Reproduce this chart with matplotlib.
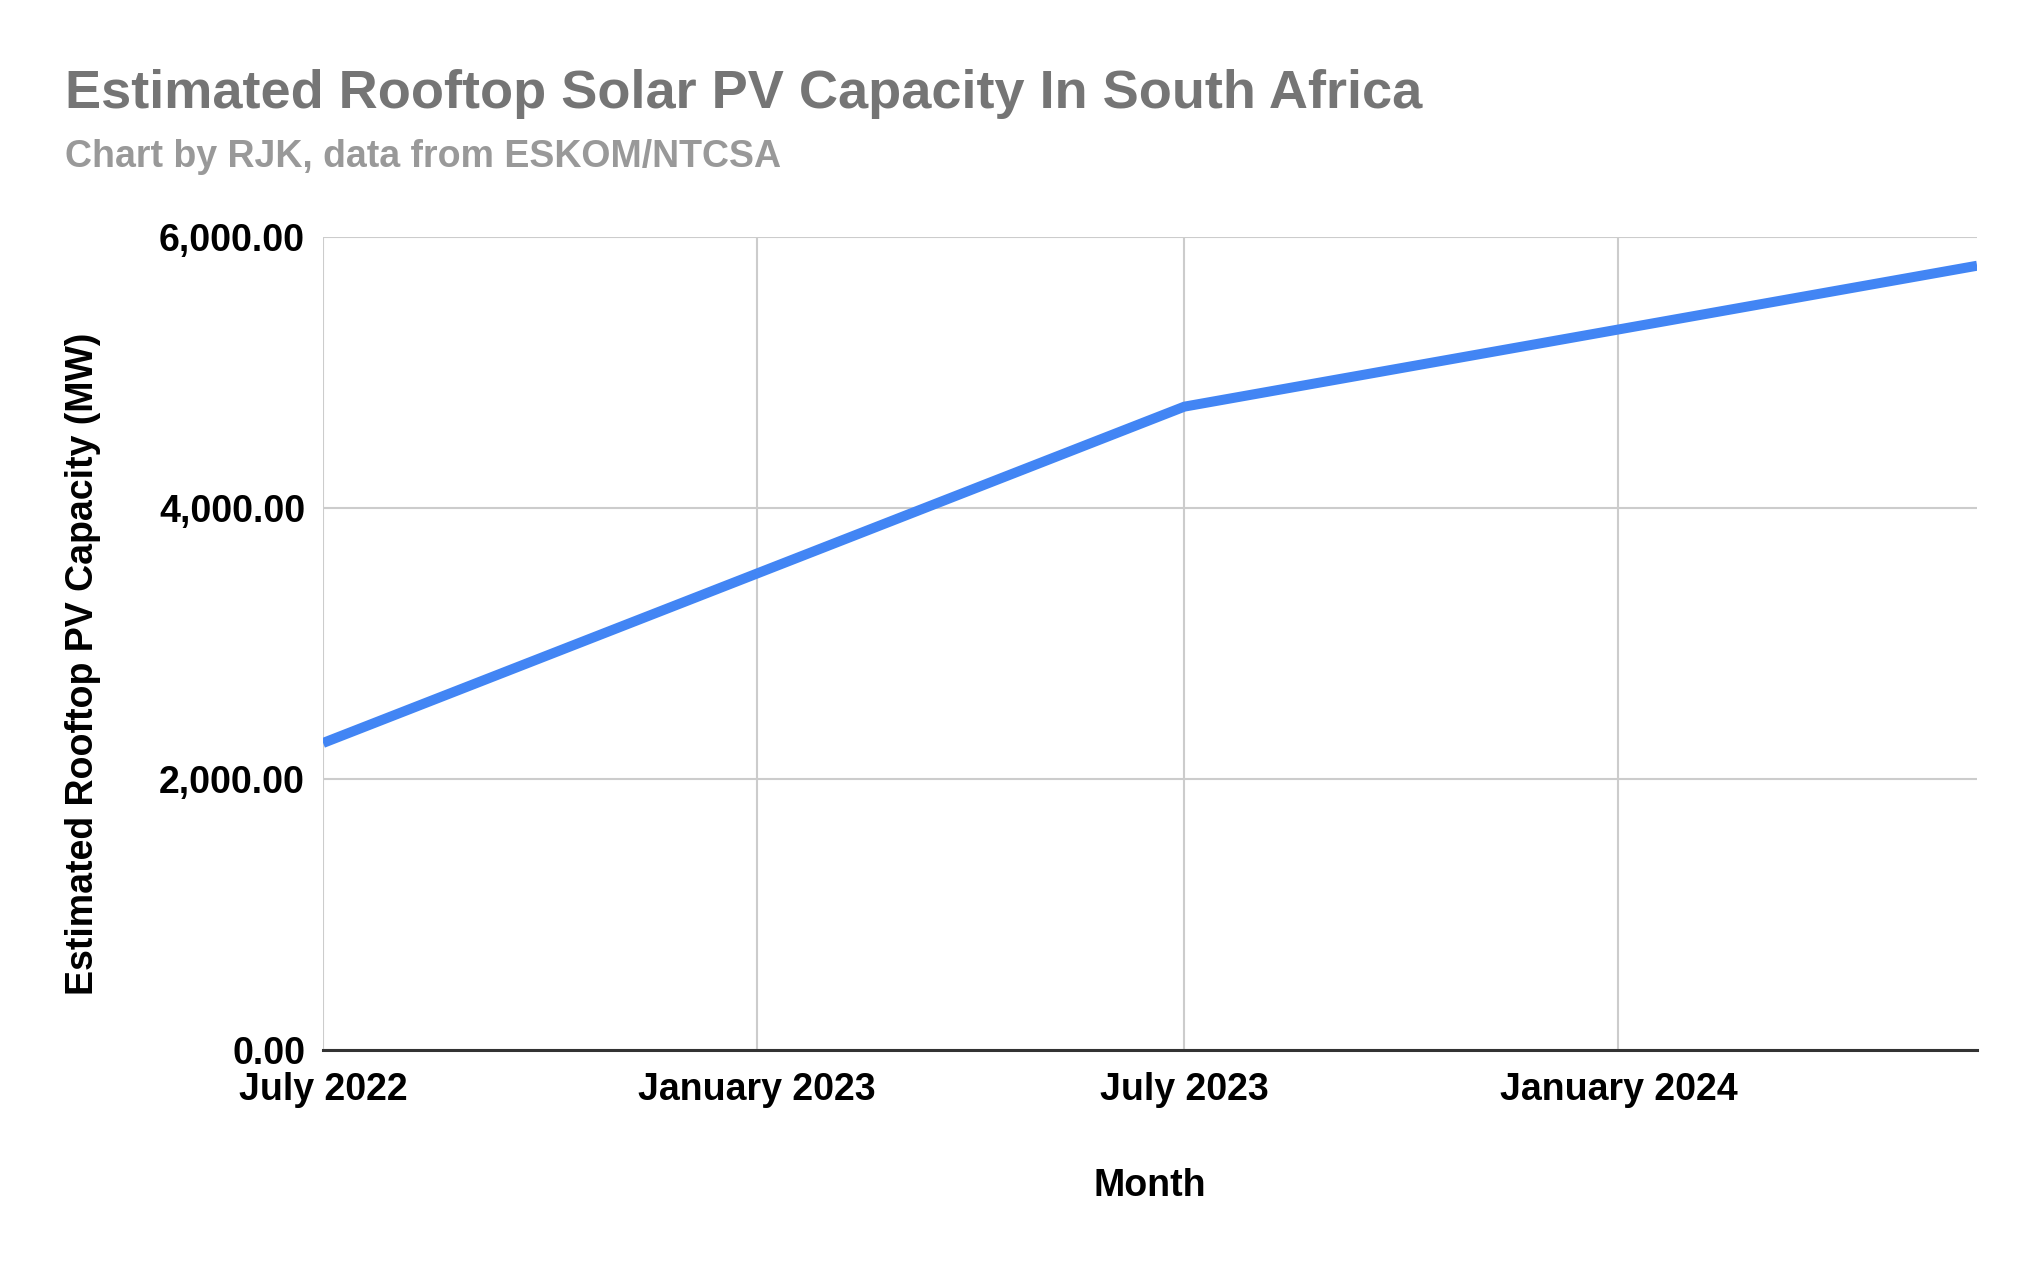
import matplotlib.pyplot as plt
import matplotlib.dates as mdates
from matplotlib.ticker import FuncFormatter
import pandas as pd

# Data
months = ['2022-07-01', '2023-07-01', '2024-06-01']
capacity_mw = [2266, 4748, 5788]

tick_dates = ['2022-07-01', '2023-01-01', '2023-07-01', '2024-01-01']
tick_labels = ['July 2022', 'January 2023', 'July 2023', 'January 2024']

plt.rcParams['font.family'] = ['Liberation Sans', 'DejaVu Sans']

dates = pd.to_datetime(months)

fig = plt.figure(figsize=(20.41, 12.66), dpi=100)
ax = fig.add_axes([0.1583, 0.1706, 0.8104, 0.6422])

ax.plot(dates, capacity_mw, color='#4285F4', linewidth=7.2, solid_capstyle='butt', zorder=3)

ax.set_xlim(pd.Timestamp('2022-07-01'), pd.Timestamp('2024-06-01'))
ax.set_ylim(0, 6000)
ax.set_yticks([0, 2000, 4000, 6000])
ax.yaxis.set_major_formatter(FuncFormatter(lambda v, p: f'{v:,.2f}'))
ax.set_xticks(pd.to_datetime(tick_dates))
ax.set_xticklabels(tick_labels)

ax.grid(True, color='#cccccc', linewidth=1.5)
ax.set_axisbelow(True)
for s in ['top', 'right', 'left']:
    ax.spines[s].set_visible(False)
ax.spines['bottom'].set_color('#333333')
ax.spines['bottom'].set_linewidth(2.2)
ax.spines['bottom'].set_zorder(4)

ax.tick_params(axis='both', length=0, labelsize=27)
ax.tick_params(axis='y', pad=13)
ax.tick_params(axis='x', pad=16)
for lbl in ax.get_xticklabels() + ax.get_yticklabels():
    lbl.set_fontweight('bold')

ax.set_xlabel('Month', fontsize=27, fontweight='bold', labelpad=43)

fig.text(0.0405, 0.476, 'Estimated Rooftop PV Capacity (MW)', rotation=90,
         fontsize=27, fontweight='bold', ha='center', va='center')

fig.text(0.032, 0.915, 'Estimated Rooftop Solar PV Capacity In South Africa',
         fontsize=39, fontweight='bold', color='#757575', ha='left', va='baseline')
fig.text(0.032, 0.868, 'Chart by RJK, data from ESKOM/NTCSA',
         fontsize=27, fontweight='bold', color='#999999', ha='left', va='baseline')

fig.savefig('out.png', dpi=100, facecolor='white')
